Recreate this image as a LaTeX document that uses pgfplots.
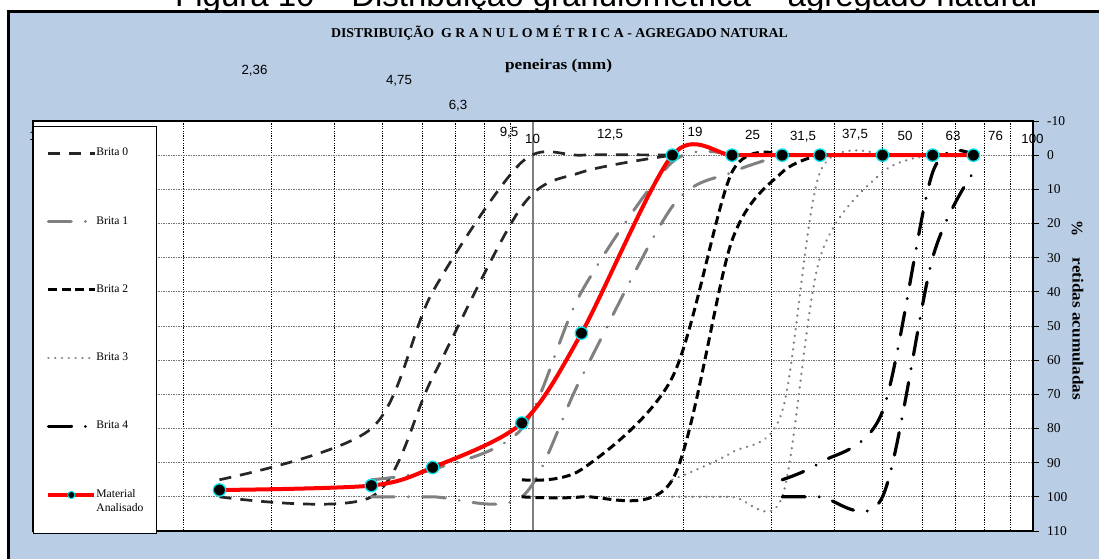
\documentclass[border=0pt]{standalone}
\usepackage{graphicx}
\usepackage{pgfplots}
\pgfplotsset{compat=1.18}
\usepackage{fontspec}
\setmainfont{Liberation Serif}
\newfontfamily\arial{Liberation Sans}
\definecolor{bgblue}{HTML}{B9CDE5}
\definecolor{mkcyan}{HTML}{00E5EE}
\pgfplotsset{
  b0/.style={black!85, line width=2.7pt, dash pattern=on 12pt off 9pt},
  b1/.style={gray, line width=3pt, line cap=round, dash pattern=on 23pt off 14pt on 0.01pt off 14pt},
  b2/.style={black, line width=3pt, dash pattern=on 8.7pt off 4.8pt},
  b3/.style={gray, line width=2.6pt, line cap=round, dash pattern=on 0.01pt off 6.8pt},
  b4/.style={black, line width=3.2pt, line cap=round, dash pattern=on 23pt off 14pt on 0.01pt off 14pt},
}
\begin{document}
\begin{tikzpicture}[x=1pt,y=1pt]
\useasboundingbox (0,0) rectangle (1099,558);
\clip (0,0) rectangle (1099,558);
\fill[white] (0,0) rectangle (1099,558);
\fill[bgblue] (8.5,-5) rectangle (1105,546.5);
\draw[line width=2.8pt] (8.5,-5) -- (8.5,546.5) -- (1105,546.5);
\node[anchor=base west, inner sep=0pt, font=\arial\fontsize{33}{36}\selectfont] at (175,551) {Figura 10 – Distribuição granulométrica – agregado natural};
\node[inner sep=0pt] at (559.5,525) {\resizebox{457pt}{\height}{\bfseries\fontsize{13.5}{16}\selectfont DISTRIBUIÇÃO\ \ G R A N U L O M É T R I C A - AGREGADO NATURAL}};
\node[inner sep=0pt] at (558.5,492) {\resizebox{107pt}{\height}{\bfseries\fontsize{15}{18}\selectfont peneiras (mm)}};
\node[anchor=base, inner sep=0pt, font=\arial\fontsize{13.3}{15}\selectfont] at (33,417.2) {1};
\begin{axis}[
  at={(33pt,27pt)}, anchor=south west,
  width=1000pt, height=410pt, scale only axis,
  xmode=log, xmin=1, xmax=100,
  ymin=-10, ymax=110, y dir=reverse,
  axis background/.style={fill=white},
  axis line style={black, line width=1.6pt},
  xtick={10}, minor xtick={2,3,4,5,6,7,8,9,20,30,40,50,60,70,80,90},
  xticklabels={},
  xtick style={draw=none}, minor tick length=0pt,
  xmajorgrids, xminorgrids,
  major x grid style={gray, line width=1.3pt, solid},
  minor x grid style={black, line width=0.8pt, dash pattern=on 1.2pt off 1.2pt},
  ytick={-10,0,...,110},
  ymajorgrids,
  major y grid style={black!55, line width=1pt, dash pattern=on 1.5pt off 1pt},
  extra y ticks={0}, extra y tick labels={},
  extra y tick style={grid=major, major grid style={gray, line width=1.8pt, solid}},
  ytick pos=right, yticklabel pos=right,
  tick align=outside, major tick length=6pt,
  ytick style={black, line width=1pt},
  /pgf/number format/assume math mode=true,
  yticklabel style={font=\fontsize{13.5}{16}\selectfont, anchor=west, inner sep=0pt, xshift=8pt},
  legend style={at={(0,1)}, anchor=north west, yshift=-4.6pt, draw=black, line width=0.8pt, fill=white,
    inner xsep=13pt, inner ysep=22pt, row sep=60.1pt, column sep=0pt,
    font=\fontsize{11.6}{14}\selectfont, nodes={inner sep=0pt, text depth={}}, cells={anchor=base west}},
  legend image code/.code={\path[draw=none,fill=none] (0pt,-0.5pt) rectangle (46pt,5.5pt); \draw[mark repeat=2,mark phase=2,#1] plot coordinates {(0pt,2.5pt) (23pt,2.5pt) (46pt,2.5pt)};},
]
% Brita 0
\addplot[b0, smooth, tension=0.5] coordinates {(2.36,95)(4.75,80)(6.3,40)(9.5,2)(12.5,0)(19,0)};
\addlegendentry{Brita 0}
\addplot[b0, smooth, tension=0.5, forget plot] coordinates {(2.36,100)(4.75,100)(6.3,65)(9.5,15)(12.5,5)(19,0)};
% Brita 1
\addplot[b1, smooth, tension=0.5] coordinates {(4.75,95)(6.3,92)(9.5,80)(12.5,40)(19,2)(25,0)};
\addlegendentry{Brita 1}
\addplot[b1, smooth, tension=0.5, forget plot] coordinates {(4.75,100)(6.3,100)(9.5,100)(12.5,65)(19,15)(25,5)(31.5,0)};
% Brita 2
\addplot[b2, smooth, tension=0.5] coordinates {(9.5,95)(12.5,92)(19,65)(25,5)(31.5,0)};
\addlegendentry{Brita 2}
\addplot[b2, smooth, tension=0.5, forget plot] coordinates {(9.5,100)(12.5,100)(19,95)(25,25)(31.5,5)(37.5,0)};
% Brita 3
\addplot[b3, smooth, tension=0.5] coordinates {(19,95)(25,87)(31.5,75)(37.5,5)(50,0)};
\addlegendentry{Brita 3}
\addplot[b3, smooth, tension=0.5, forget plot] coordinates {(19,100)(25,100)(31.5,100)(37.5,30)(50,5)(63,0)};
% Brita 4
\addplot[b4, smooth, tension=0.5] coordinates {(31.5,95)(37.5,90)(50,75)(63,5)(76,0)};
\addlegendentry{Brita 4}
\addplot[b4, smooth, tension=0.5, forget plot] coordinates {(31.5,100)(37.5,100)(50,100)(63,30)(76,5)};
% Material analisado
\addplot[red, line width=4pt, smooth, tension=0.5, mark=*, mark size=6.2pt,
  mark options={fill=black, draw=mkcyan, line width=1.3pt, solid}, forget plot]
  coordinates {(2.36,98)(4.75,96.7)(6.3,91.4)(9.5,78.4)(12.5,52.1)(19,0)(25,0)(31.5,0)(37.5,0)(50,0)(63,0)(76,0)};
\addlegendimage{red, line width=4pt, mark=*, mark size=3.6pt, mark options={fill=black, draw=mkcyan, line width=0.9pt, solid}}
\addlegendentry{\vtop{\hbox{Material}\hbox{Analisado}}}
\end{axis}
\begin{scope}[every node/.style={anchor=base, inner sep=0pt, font=\arial\fontsize{13.3}{15}\selectfont}]
\node at (254.5,483.2) {2,36};
\node at (399,473.2) {4,75};
\node at (458,448.2) {6,3};
\node at (509,421.5) {9,5};
\node at (532.5,414.9) {10};
\node at (610,419.9) {12,5};
\node at (695,421.5) {19};
\node at (752.5,418.2) {25};
\node at (803,417.2) {31,5};
\node at (855,419.2) {37,5};
\node at (905,417.2) {50};
\node at (953,417.2) {63};
\node at (995.5,417.2) {76};
\node at (1032.5,414.9) {100};
\end{scope}
\node[rotate=-90, inner sep=0pt] at (1077,329.5) {\bfseries\fontsize{16}{18}\selectfont \%};
\node[rotate=-90, inner sep=0pt] at (1078,229) {\resizebox{142pt}{\height}{\bfseries\fontsize{15.5}{18}\selectfont retidas acumuladas}};
\end{tikzpicture}
\end{document}
